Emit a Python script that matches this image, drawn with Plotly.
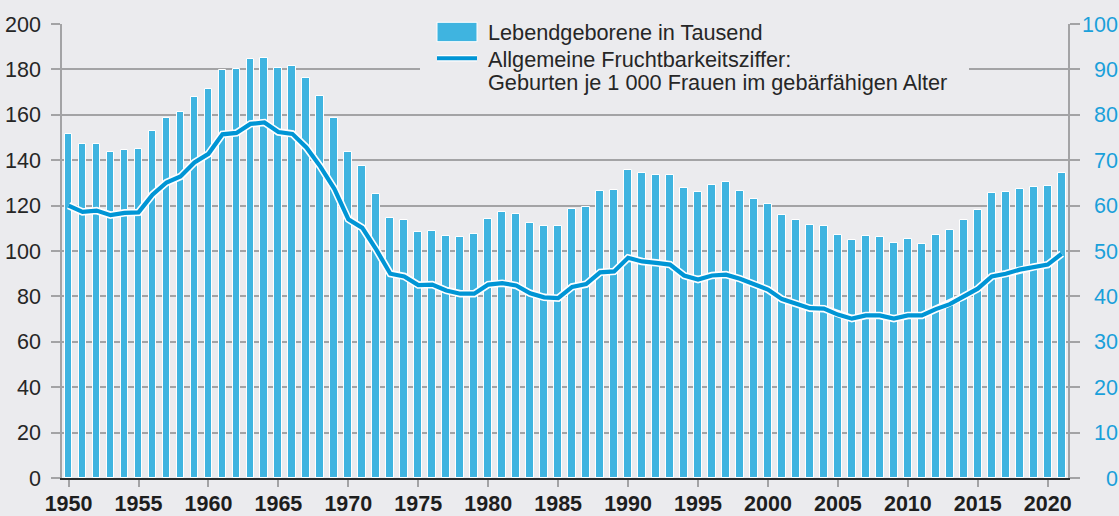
import plotly.graph_objects as go

years = list(range(1950, 2022))
births = [151.5, 147.0, 147.0, 143.4, 144.6, 144.9, 152.7, 158.7, 161.2, 168.0,
          171.5, 179.9, 180.0, 184.4, 185.2, 180.6, 181.3, 176.2, 168.1, 158.4,
          143.4, 137.3, 124.9, 114.5, 113.8, 108.4, 108.9, 106.4, 106.0, 107.5,
          114.2, 117.0, 116.4, 112.5, 111.0, 111.1, 118.3, 119.5, 126.3, 126.9,
          135.8, 134.2, 133.7, 133.7, 127.6, 125.8, 129.2, 130.2, 126.3, 123.0,
          120.5, 115.7, 113.6, 111.3, 110.8, 107.0, 104.7, 106.6, 106.2, 103.5,
          105.1, 103.3, 106.9, 109.4, 113.8, 117.9, 125.6, 126.0, 127.4, 128.0,
          128.5, 134.2]
fertility = [60.0, 58.6, 58.9, 57.9, 58.4, 58.5, 62.4, 65.1, 66.4, 69.5,
             71.4, 75.7, 76.0, 78.0, 78.3, 76.2, 75.8, 72.8, 68.6, 63.7,
             57.0, 55.1, 50.3, 45.0, 44.4, 42.5, 42.6, 41.3, 40.6, 40.6,
             42.6, 42.9, 42.4, 40.7, 39.8, 39.6, 42.1, 42.7, 45.3, 45.5,
             48.5, 47.7, 47.4, 47.0, 44.6, 43.7, 44.6, 44.8, 43.9, 42.6,
             41.5, 39.4, 38.3, 37.4, 37.3, 36.0, 35.1, 35.8, 35.8, 35.1,
             35.8, 35.8, 37.2, 38.3, 40.0, 41.7, 44.4, 45.0, 45.9, 46.5,
             47.0, 49.4]

left_ticks = [0, 20, 40, 60, 80, 100, 120, 140, 160, 180, 200]
right_ticks = [0, 10, 20, 30, 40, 50, 60, 70, 80, 90, 100]
right_ticktext = [("\u2007" * (3 - len(str(v)))) + str(v) for v in right_ticks]

legend_bar = "Lebendgeborene in Tausend"
legend_line = ["Allgemeine Fruchtbarkeitsziffer:",
               "Geburten je 1 000 Frauen im gebärfähigen Alter"]

BG = "#ebebee"
BAR = "#3fb4e0"
LINE = "#0095d5"
RIGHTC = "#1aa0da"
GRID = "#a3a3a5"
TXT = "#262626"
FONT = "Liberation Sans, Arial, sans-serif"

W, H = 1119, 516
ML, MR, MT, MB = 62, 51, 24, 38
PW, PH = W - ML - MR, H - MT - MB


def px(x):
    return (x - ML) / PW


def py(y):
    return (H - MB - y) / PH


fig = go.Figure()
fig.add_trace(go.Bar(x=years, y=births, width=0.56,
                     marker=dict(color=BAR, line=dict(color="white", width=1)),
                     showlegend=False, hoverinfo="x+y"))
fig.add_trace(go.Scatter(x=years, y=fertility, yaxis="y2", mode="lines",
                         line=dict(color="white", width=7.5),
                         showlegend=False, hoverinfo="skip"))
fig.add_trace(go.Scatter(x=years, y=fertility, yaxis="y2", mode="lines",
                         line=dict(color=LINE, width=4.2),
                         showlegend=False, hoverinfo="x+y"))

shapes = [
    # legend backgrounds hiding grid lines
    dict(type="rect", xref="paper", yref="paper", x0=px(420), x1=px(782),
         y0=py(45), y1=py(12), fillcolor=BG, line=dict(width=0), layer="above"),
    dict(type="rect", xref="paper", yref="paper", x0=px(420), x1=px(969),
         y0=py(96), y1=py(45), fillcolor=BG, line=dict(width=0), layer="above"),
    # legend swatches
    dict(type="rect", xref="paper", yref="paper", x0=px(437), x1=px(477),
         y0=py(41.7), y1=py(22.3), fillcolor=BAR,
         line=dict(color="white", width=1), layer="above"),
    dict(type="line", xref="paper", yref="paper", x0=px(437), x1=px(477),
         y0=py(58.3), y1=py(58.3), line=dict(color="white", width=6.5), layer="above"),
    dict(type="line", xref="paper", yref="paper", x0=px(437), x1=px(477),
         y0=py(58.3), y1=py(58.3), line=dict(color=LINE, width=4), layer="above"),
]

LEG_SIZE = 21.7
annotations = [
    dict(text=legend_bar, xref="paper", yref="paper", x=px(486), y=py(32),
         xanchor="left", yanchor="middle", showarrow=False,
         font=dict(family=FONT, size=LEG_SIZE, color=TXT)),
    dict(text=legend_line[0], xref="paper", yref="paper", x=px(486), y=py(60),
         xanchor="left", yanchor="middle", showarrow=False,
         font=dict(family=FONT, size=LEG_SIZE, color=TXT)),
    dict(text=legend_line[1], xref="paper", yref="paper", x=px(486), y=py(82),
         xanchor="left", yanchor="middle", showarrow=False,
         font=dict(family=FONT, size=LEG_SIZE, color=TXT)),
]

fig.update_layout(
    width=W, height=H,
    margin=dict(l=ML, r=MR, t=MT, b=MB, pad=0, autoexpand=False),
    paper_bgcolor=BG, plot_bgcolor=BG,
    bargap=0,
    showlegend=False,
    font=dict(family=FONT, color=TXT),
    xaxis=dict(range=[1949.53, 2021.45], tickmode="linear", tick0=1950, dtick=5,
               automargin=False,
               showgrid=False, zeroline=False,
               showline=True, linecolor="#2a2a2a", linewidth=2,
               ticks="outside", ticklen=7, tickcolor=GRID, tickwidth=1.5,
               ticklabelstandoff=-2,
               tickfont=dict(family=FONT, size=21.5, color="#1e1e1e", weight="bold")),
    yaxis=dict(range=[0, 200], tickvals=left_ticks, automargin=False,
               showgrid=True, gridcolor=GRID, gridwidth=1.5, zeroline=False,
               showline=True, linecolor=GRID, linewidth=1.5,
               ticks="outside", ticklen=9, tickcolor=GRID, tickwidth=1.5,
               ticklabelstandoff=6,
               tickfont=dict(family=FONT, size=21.5, color=TXT)),
    yaxis2=dict(range=[0, 100], overlaying="y", side="right", automargin=False,
                tickvals=right_ticks, ticktext=right_ticktext,
                showgrid=False, zeroline=False,
                showline=True, linecolor=GRID, linewidth=1.5,
                ticks="outside", ticklen=10, tickcolor=GRID, tickwidth=1.5,
                ticklabelstandoff=-2,
                tickfont=dict(family=FONT, size=21.5, color=RIGHTC)),
    shapes=shapes,
    annotations=annotations,
)

fig.write_html(
    "out.html",
    config={"displayModeBar": False},
    post_script="document.body.style.margin='0';document.body.style.overflow='hidden';"
                "document.body.style.background='" + BG + "';",
)
